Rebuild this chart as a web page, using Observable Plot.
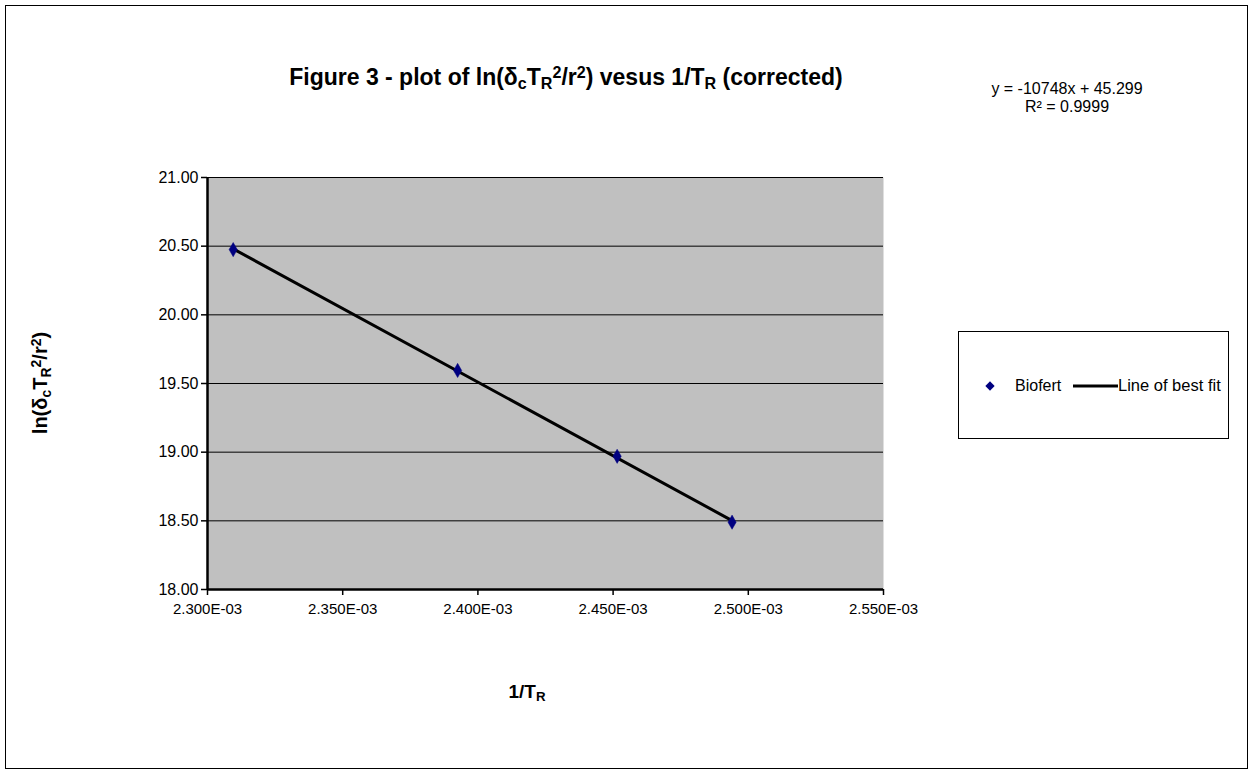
<!DOCTYPE html>
<html>
<head>
<meta charset="utf-8">
<script src="https://cdn.jsdelivr.net/npm/d3@7"></script>
<script src="https://cdn.jsdelivr.net/npm/@observablehq/plot@0.6"></script>
<style>
  html, body { margin: 0; padding: 0; background: white; }
  #chart { width: 1253px; height: 774px; }
</style>
</head>
<body>
<div id="chart"></div>
<script>
// ---- data ----
const invT = [2.3095e-3, 2.3925e-3, 2.4515e-3, 2.4940e-3];
const lnVal = [20.475, 19.595, 18.970, 18.490];
const seriesName = "Biofert";
const fitName = "Line of best fit";
const xTicks = [2.30e-3, 2.35e-3, 2.40e-3, 2.45e-3, 2.50e-3, 2.55e-3];
const yTicks = [18.0, 18.5, 19.0, 19.5, 20.0, 20.5, 21.0];
const equationLines = ["y = -10748x + 45.299", "R² = 0.9999"];

const data = invT.map((x, i) => ({x, y: lnVal[i]}));
const FONT = "'Liberation Sans', Arial, Helvetica, sans-serif";

const svg = Plot.plot({
  width: 1253,
  height: 774,
  marginLeft: 207,
  marginRight: 370,
  marginTop: 177,
  marginBottom: 185,
  style: {fontFamily: FONT, fontSize: "15px", background: "white", color: "black", overflow: "visible"},
  x: {domain: [2.30e-3, 2.55e-3], label: null},
  y: {domain: [18, 21], label: null},
  marks: [
    Plot.frame({fill: "#c0c0c0", stroke: null}),
    Plot.ruleY(yTicks.filter(d => d > 18), {stroke: "black", strokeWidth: 1}),
    Plot.axisX({ticks: xTicks, tickSize: 6, tickPadding: 8, tickFormat: d => (d * 1000).toFixed(3) + "E-03", stroke: "black", strokeWidth: 1.5, fontSize: 15}),
    Plot.axisY({ticks: yTicks, tickSize: 6, tickPadding: 3, tickFormat: d3.format(".2f"), stroke: "black", strokeWidth: 1.5, fontSize: 16}),
    Plot.ruleX([2.30e-3], {stroke: "black", strokeWidth: 2.5}),
    Plot.ruleY([18], {stroke: "black", strokeWidth: 2.5}),
    Plot.linearRegressionY(data, {x: "x", y: "y", ci: 0, stroke: "black", strokeWidth: 3}),
    Plot.dot(data, {x: "x", y: "y", symbol: "diamond", r: 4.3, fill: "#000080", stroke: "#000080", strokeWidth: 0.5})
  ]
});

document.getElementById("chart").appendChild(svg);
const s = d3.select(svg);

// outer border
s.append("rect").attr("x", 5.5).attr("y", 5.5).attr("width", 1242).attr("height", 763)
  .attr("fill", "none").attr("stroke", "#000").attr("stroke-width", 1);

// rich text helper
function rich(g, x, y, parts, opts) {
  const t = g.append("text").attr("x", x).attr("y", y)
    .attr("text-anchor", opts.anchor || "middle")
    .attr("font-family", FONT).attr("font-size", opts.size)
    .attr("font-weight", opts.weight || "normal").attr("fill", "black");
  if (opts.rotate) t.attr("transform", `rotate(${opts.rotate},${x},${y})`);
  for (const p of parts) {
    const sp = t.append("tspan").text(p.t);
    if (p.s === "sub") sp.attr("font-size", opts.size * 0.7).attr("baseline-shift", "-25%");
    else if (p.s === "sup") sp.attr("font-size", opts.size * 0.7).attr("baseline-shift", "45%");
  }
  return t;
}

// title
rich(s, 566, 85, [
  {t: "Figure 3 - plot of ln(δ"}, {t: "c", s: "sub"}, {t: "T"}, {t: "R", s: "sub"}, {t: "2", s: "sup"},
  {t: "/r"}, {t: "2", s: "sup"}, {t: ") vesus 1/T"}, {t: "R", s: "sub"}, {t: " (corrected)"}
], {size: 23, weight: "bold"});

// equation
equationLines.forEach((l, i) => {
  s.append("text").attr("x", 1067).attr("y", 94 + i * 18).attr("text-anchor", "middle")
    .attr("font-family", FONT).attr("font-size", 16).attr("fill", "black").text(l);
});

// y axis label
rich(s, 47, 383, [
  {t: "ln(δ"}, {t: "c", s: "sub"}, {t: "T"}, {t: "R", s: "sub"}, {t: "2", s: "sup"}, {t: "/r"}, {t: "2", s: "sup"}, {t: ")"}
], {size: 20, weight: "bold", rotate: -90});

// x axis label
rich(s, 527, 698, [{t: "1/T"}, {t: "R", s: "sub"}], {size: 19, weight: "bold"});

// legend
const lg = s.append("g").attr("text-anchor", "start");
lg.append("rect").attr("x", 958.5).attr("y", 331.5).attr("width", 270).attr("height", 107)
  .attr("fill", "white").attr("stroke", "#000").attr("stroke-width", 1);
lg.append("path").attr("d", d3.symbol(d3.symbolDiamond2, 55)()).attr("transform", "translate(990,386)")
  .attr("fill", "#000080");
lg.append("text").attr("x", 1015).attr("y", 391).attr("text-anchor", "start").attr("font-family", FONT).attr("font-size", 16).text(seriesName);
lg.append("line").attr("x1", 1073).attr("x2", 1118).attr("y1", 386).attr("y2", 386).attr("stroke", "black").attr("stroke-width", 3);
lg.append("text").attr("x", 1118).attr("y", 391).attr("text-anchor", "start").attr("font-family", FONT).attr("font-size", 16.5).text(fitName);
</script>
</body>
</html>
